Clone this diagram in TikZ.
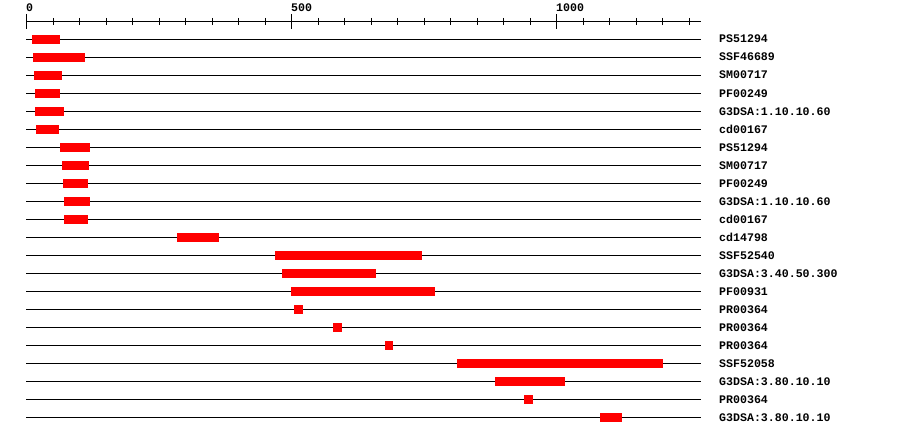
\documentclass[tikz,border=0pt]{standalone}
\usepackage{fontspec}
\setmainfont{Liberation Mono}
\begin{document}
\begin{tikzpicture}[x=1pt,y=-1pt,
  track/.style={line width=1pt,black},
  bar/.style={fill=red,draw=none},
  lbl/.style={font=\fontsize{11.6}{12}\selectfont\bfseries,inner sep=0pt,anchor=base west},
  tickline/.style={line width=1pt,black}]
\useasboundingbox (0,0) rectangle (900,436);
\fill[white] (0,0) rectangle (900,436);
% axis
\draw[tickline] (26,21.5) -- (701,21.5);
\foreach \k in {0,...,25} {
  \draw[tickline] ({26.5+26.5*\k},18) -- ({26.5+26.5*\k},25);
}
\foreach \xx in {26.5,291.5,556.5} {
  \draw[tickline] (\xx,14) -- (\xx,29);
}
\node[lbl] (t0) at (26,11.5) {0};
\node[lbl] (t500) at (291,11.5) {500};
\node[lbl] (t1000) at (556,11.5) {1000};
% rows: index / start / end / label
\foreach \i/\a/\b/\t in {
  0/32/60/PS51294,
  1/33/85/SSF46689,
  2/34/62/SM00717,
  3/35/60/PF00249,
  4/35/64/G3DSA:1.10.10.60,
  5/36/59/cd00167,
  6/60/90/PS51294,
  7/62/89/SM00717,
  8/63/88/PF00249,
  9/64/90/G3DSA:1.10.10.60,
  10/64/88/cd00167,
  11/177/219/cd14798,
  12/275/422/SSF52540,
  13/282/376/G3DSA:3.40.50.300,
  14/291/435/PF00931,
  15/294/303/PR00364,
  16/333/342/PR00364,
  17/385/393/PR00364,
  18/457/663/SSF52058,
  19/495/565/G3DSA:3.80.10.10,
  20/524/533/PR00364,
  21/600/622/G3DSA:3.80.10.10} {
  \pgfmathsetmacro{\yy}{39.5+18*\i}
  \draw[track] (26,\yy) -- (701,\yy);
  \fill[red] (\a,\yy-4.5) rectangle (\b,\yy+4.5);
  \node[lbl] (l\i) at (719,\yy+3.5) {\t};
}
\end{tikzpicture}
\end{document}
